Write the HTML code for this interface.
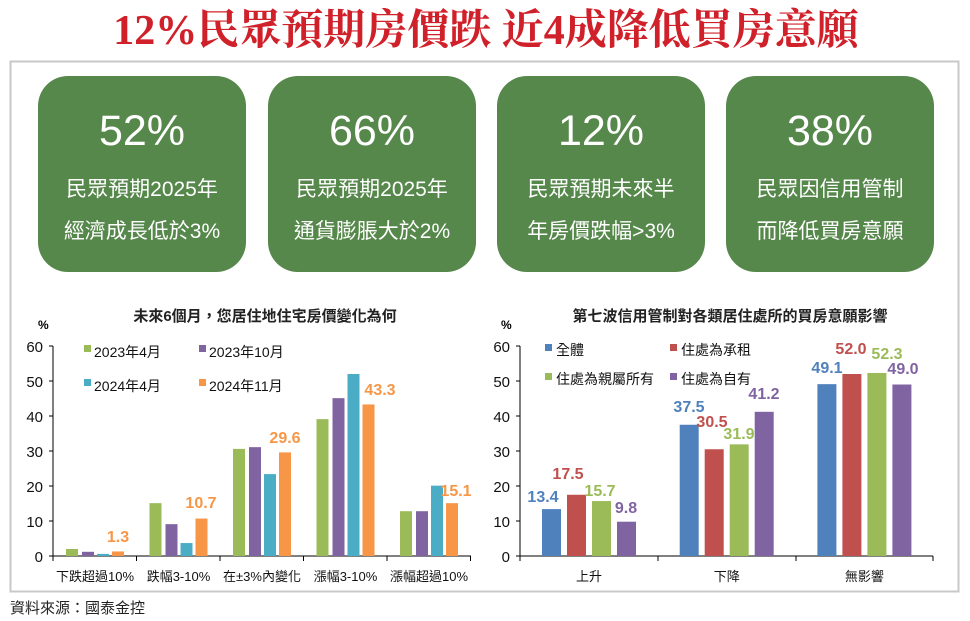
<!DOCTYPE html>
<html><head><meta charset="utf-8"><style>
body{margin:0;background:#fff;width:970px;height:621px;overflow:hidden}
svg{display:block;font-family:"Liberation Sans","Noto Sans CJK TC",sans-serif}
</style></head><body>
<svg id="s" width="970" height="621" viewBox="0 0 970 621">
<text x="486" y="44" text-anchor="middle" font-family="'Liberation Serif','Noto Serif CJK SC',serif" font-weight="bold" font-size="42" fill="#d0202a">12%民眾預期房價跌 近4成降低買房意願</text>
<rect x="10.5" y="61.5" width="948" height="530" fill="none" stroke="#c8c8c8" stroke-width="2"/>
<text x="10" y="613" font-size="15" fill="#222">資料來源：國泰金控</text>
</svg>
<script>
var s=document.getElementById('s'),h='';
var boxes=[[38,'52%','民眾預期2025年','經濟成長低於3%'],[268,'66%','民眾預期2025年','通貨膨脹大於2%'],[497,'12%','民眾預期未來半','年房價跌幅>3%'],[726,'38%','民眾因信用管制','而降低買房意願']];
boxes.forEach(function(b){var cx=b[0]+104;
h+='<rect x="'+b[0]+'" y="76" width="208" height="196" rx="30" fill="#56874b"/>';
h+='<text x="'+cx+'" y="145" text-anchor="middle" font-size="43" fill="#fff">'+b[1]+'</text>';
h+='<text x="'+cx+'" y="196" text-anchor="middle" font-size="21" fill="#fff">'+b[2]+'</text>';
h+='<text x="'+cx+'" y="238" text-anchor="middle" font-size="21" fill="#fff">'+b[3]+'</text>';});
function axis(x0,x1,ticks){var r='<line x1="'+x0+'" y1="346" x2="'+x0+'" y2="556" stroke="#000"/><line x1="'+x0+'" y1="556" x2="'+x1+'" y2="556" stroke="#000"/>';
for(var v=0;v<=60;v+=10){var y=556-3.5*v;r+='<line x1="'+(x0-4)+'" y1="'+y+'" x2="'+x0+'" y2="'+y+'" stroke="#000"/><text x="'+(x0-10)+'" y="'+(y+6)+'" text-anchor="end" font-size="15" fill="#111">'+v+'</text>';}
ticks.forEach(function(t){r+='<line x1="'+t+'" y1="556" x2="'+t+'" y2="561" stroke="#000"/>';});return r;}
var lt=[53,136.5,220,303.5,387,470.5];h+=axis(53,471,lt);
h+='<text x="265" y="321" text-anchor="middle" font-size="15" font-weight="bold" fill="#222">未來6個月，您居住地住宅房價變化為何</text><text x="38" y="329" font-size="12" font-weight="bold">%</text>';
var lc=['#9bbb59','#8064a2','#4bacc6','#f79646'],lo=[13,29,44,59];
var ld=[[2,1.2,0.6,1.3],[15.1,9.1,3.7,10.7],[30.6,31.1,23.4,29.6],[39.1,45.1,52,43.3],[12.8,12.8,20.1,15.1]];
var lp=[[118,542],[201,508],[285,443],[380,395],[456,496]];
var ll=['下跌超過10%','跌幅3-10%','在±3%內變化','漲幅3-10%','漲幅超過10%'];
ld.forEach(function(g,i){var gx=53+83.5*i;g.forEach(function(v,j){h+='<rect x="'+(gx+lo[j])+'" y="'+(556-3.5*v)+'" width="12" height="'+(3.5*v)+'" fill="'+lc[j]+'"/>';});
h+='<text x="'+lp[i][0]+'" y="'+lp[i][1]+'" text-anchor="middle" font-size="16" font-weight="bold" fill="#f79646">'+g[3]+'</text>';
h+='<text x="'+(gx+42)+'" y="581" text-anchor="middle" font-size="13" fill="#111">'+ll[i]+'</text>';});
var lg=[[84,350,'2023年4月'],[199,350,'2023年10月'],[84,384,'2024年4月'],[199,384,'2024年11月']];
lg.forEach(function(l,i){h+='<rect x="'+l[0]+'" y="'+(l[1]-5)+'" width="7" height="7" fill="'+lc[i]+'"/><text x="'+(l[0]+10)+'" y="'+(l[1]+7)+'" font-size="14" fill="#111">'+l[2]+'</text>';});
var rt=[520,658,796,933];h+=axis(520,933,rt);
h+='<text x="730" y="321" text-anchor="middle" font-size="15" font-weight="bold" fill="#222">第七波信用管制對各類居住處所的買房意願影響</text><text x="501" y="329" font-size="12" font-weight="bold">%</text>';
var rc=['#4f81bd','#c0504d','#9bbb59','#8064a2'],ro=[22,47,72,97];
var rd=[[13.4,17.5,15.7,9.8],[37.5,30.5,31.9,41.2],[49.1,52.0,52.3,49.0]];
var rp=[[[543,502],[568,479],[600,496],[626,513]],[[689,412],[712,427],[739,439],[764,399]],[[827,373],[851,354],[887,359],[903,374]]];
var rl=['上升','下降','無影響'];
rd.forEach(function(g,i){var gx=520+137.7*i;g.forEach(function(v,j){var x=gx+ro[j];h+='<rect x="'+x+'" y="'+(556-3.5*v)+'" width="19" height="'+(3.5*v)+'" fill="'+rc[j]+'"/>';
h+='<text x="'+rp[i][j][0]+'" y="'+rp[i][j][1]+'" text-anchor="middle" font-size="16" font-weight="bold" fill="'+rc[j]+'">'+v.toFixed(1)+'</text>';});
h+='<text x="'+(gx+69)+'" y="581" text-anchor="middle" font-size="13" fill="#111">'+rl[i]+'</text>';});
var rg=[[545,348,'全體'],[670,348,'住處為承租'],[545,377,'住處為親屬所有'],[670,377,'住處為自有']];
rg.forEach(function(l,i){h+='<rect x="'+l[0]+'" y="'+(l[1]-4)+'" width="7" height="7" fill="'+rc[i]+'"/><text x="'+(l[0]+11)+'" y="'+(l[1]+7)+'" font-size="14" fill="#111">'+l[2]+'</text>';});
s.insertAdjacentHTML('beforeend',h);
</script>
</body></html>
